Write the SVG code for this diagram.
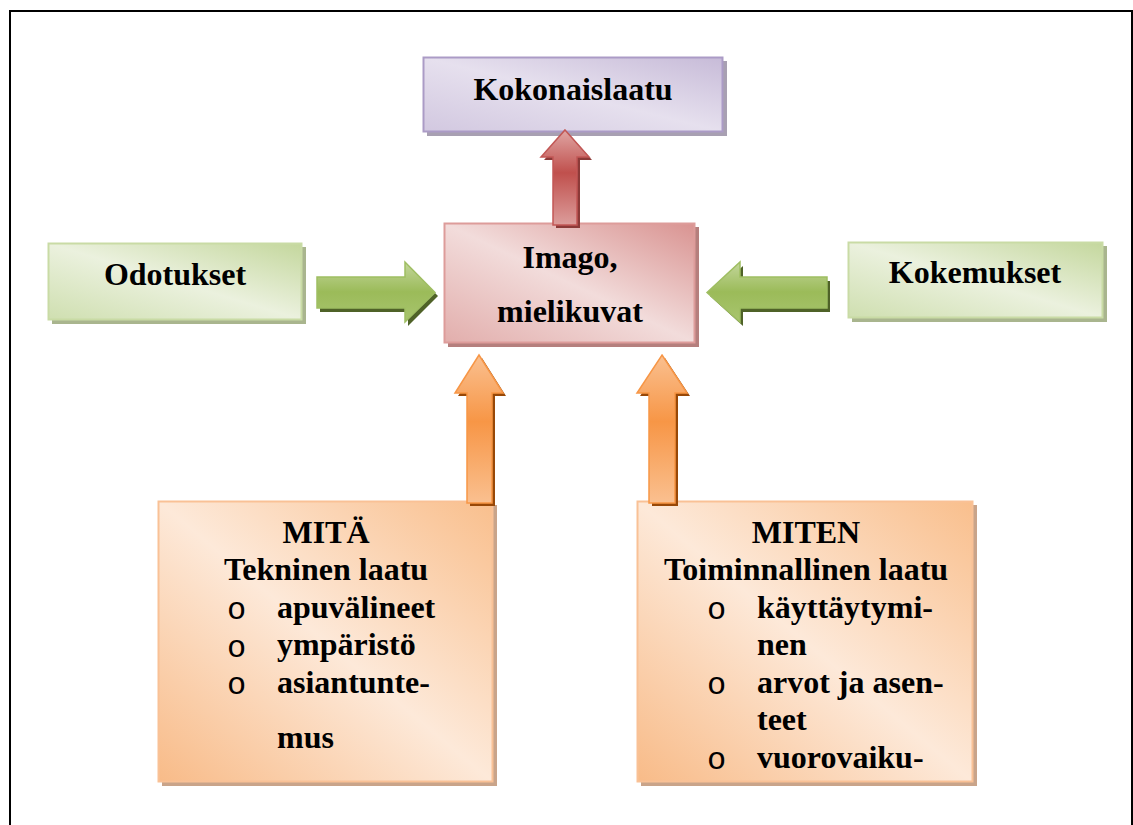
<svg xmlns="http://www.w3.org/2000/svg" width="1133" height="825" viewBox="0 0 1133 825">
<defs>
  <linearGradient id="gPurple" x1="1" y1="0" x2="0" y2="1">
    <stop offset="0" stop-color="#c7bbd8"/>
    <stop offset="0.5" stop-color="#e6e0ee"/>
    <stop offset="1" stop-color="#d2c8e0"/>
  </linearGradient>
  <linearGradient id="gPink" x1="1" y1="0" x2="0" y2="1">
    <stop offset="0" stop-color="#d99391"/>
    <stop offset="0.5" stop-color="#f2dcdb"/>
    <stop offset="1" stop-color="#e2aeac"/>
  </linearGradient>
  <linearGradient id="gGreen" x1="1" y1="0" x2="0" y2="1">
    <stop offset="0" stop-color="#c4d79d"/>
    <stop offset="0.5" stop-color="#ebf1de"/>
    <stop offset="1" stop-color="#cfdfb0"/>
  </linearGradient>
  <linearGradient id="gOrange" x1="1" y1="0" x2="0" y2="1">
    <stop offset="0" stop-color="#f9bf8d"/>
    <stop offset="0.5" stop-color="#fde9d9"/>
    <stop offset="1" stop-color="#f8bb88"/>
  </linearGradient>
  <linearGradient id="aRed" x1="0" y1="0" x2="0" y2="1">
    <stop offset="0" stop-color="#e0a6a4"/>
    <stop offset="0.45" stop-color="#c0504d"/>
    <stop offset="1" stop-color="#dc9d9b"/>
  </linearGradient>
  <linearGradient id="aGreen" x1="0" y1="0" x2="0" y2="1">
    <stop offset="0" stop-color="#c3d69b"/>
    <stop offset="0.5" stop-color="#9bbb59"/>
    <stop offset="1" stop-color="#a9c56f"/>
  </linearGradient>
  <linearGradient id="aOrange" x1="0" y1="0" x2="0" y2="1">
    <stop offset="0" stop-color="#fac090"/>
    <stop offset="0.45" stop-color="#f79646"/>
    <stop offset="1" stop-color="#fac090"/>
  </linearGradient>
</defs>
<style>
  .t { font-family: "Liberation Serif", "Times New Roman", serif; font-weight: bold; font-size: 32px; fill: #000; }
  .b { font-family: "Liberation Mono", "Courier New", monospace; font-size: 32px; fill: #000; }
  .border { fill: none; stroke: #000; stroke-width: 2; }
</style>
<rect width="1133" height="825" fill="#fff"/>
<path class="border" d="M10,826 V11 H1132 V826"/>

<g id="kokonaislaatu">
  <rect x="427" y="61" width="300" height="75" fill="#a8a0b2"/>
  <rect x="423.5" y="57.5" width="299" height="74" fill="url(#gPurple)" stroke="#ab9bc6" stroke-width="2"/>
  <text class="t" x="573" y="100" text-anchor="middle">Kokonaislaatu</text>
</g>

<g id="imago">
  <rect x="448" y="227" width="251" height="120" fill="#b57f7d"/>
  <rect x="444.5" y="223.5" width="250" height="119" fill="url(#gPink)" stroke="#dd9c9a" stroke-width="2"/>
  <text class="t" x="570" y="268" text-anchor="middle">Imago,</text>
  <text class="t" x="570" y="322" text-anchor="middle">mielikuvat</text>
</g>

<g id="odotukset">
  <rect x="52" y="247" width="254" height="77" fill="#a9b58e"/>
  <rect x="48.5" y="243.5" width="253" height="76" fill="url(#gGreen)" stroke="#c9dba5" stroke-width="2"/>
  <text class="t" x="175" y="285" text-anchor="middle">Odotukset</text>
</g>

<g id="kokemukset">
  <rect x="852" y="246" width="255" height="76" fill="#a9b58e"/>
  <rect x="848.5" y="242.5" width="254" height="75" fill="url(#gGreen)" stroke="#c9dba5" stroke-width="2"/>
  <text class="t" x="975" y="283" text-anchor="middle">Kokemukset</text>
</g>

<g id="mita">
  <rect x="162" y="505" width="335" height="281" fill="#c9a48a"/>
  <rect x="158.5" y="501.5" width="334" height="280" fill="url(#gOrange)" stroke="#f9c196" stroke-width="2"/>
  <text class="t" x="326" y="543" text-anchor="middle">MITÄ</text>
  <text class="t" x="326" y="580" text-anchor="middle">Tekninen laatu</text>
  <text class="b" x="227" y="619">o</text>
  <text class="t" x="277" y="618">apuvälineet</text>
  <text class="b" x="227" y="657">o</text>
  <text class="t" x="277" y="655">ympäristö</text>
  <text class="b" x="227" y="694">o</text>
  <text class="t" x="277" y="693">asiantunte-</text>
  <text class="t" x="277" y="748">mus</text>
</g>

<g id="miten">
  <rect x="641" y="505" width="336" height="281" fill="#c9a48a"/>
  <rect x="637.5" y="501.5" width="335" height="280" fill="url(#gOrange)" stroke="#f9c196" stroke-width="2"/>
  <text class="t" x="806" y="543" text-anchor="middle">MITEN</text>
  <text class="t" x="806" y="580" text-anchor="middle">Toiminnallinen laatu</text>
  <text class="b" x="707" y="619">o</text>
  <text class="t" x="757" y="618">käyttäytymi-</text>
  <text class="t" x="757" y="655">nen</text>
  <text class="b" x="707" y="694">o</text>
  <text class="t" x="757" y="693">arvot ja asen-</text>
  <text class="t" x="757" y="730">teet</text>
  <text class="b" x="707" y="769">o</text>
  <text class="t" x="757" y="768">vuorovaiku-</text>
</g>

<g id="connectors">
  <!-- red up arrow: imago -> kokonaislaatu -->
  <path d="M568,133 L592,160 L580,160 L580,228 L556,228 L556,160 L544,160 Z" fill="#8c3a38"/>
  <path d="M565,130 L589,157 L577,157 L577,225 L553,225 L553,157 L541,157 Z" fill="url(#aRed)" stroke="#c25755" stroke-width="1.5"/>

  <!-- green right arrow: odotukset -> imago -->
  <path d="M320,281 L408,281 L408,266 L438,296 L408,326 L408,312 L320,312 Z" fill="#4f6228"/>
  <path d="M317,277 L405,277 L405,262 L435,292.5 L405,322 L405,308 L317,308 Z" fill="url(#aGreen)" stroke="#9fbe62" stroke-width="1.5"/>

  <!-- green left arrow: kokemukset -> imago -->
  <path d="M710,296 L743,266 L743,281 L830,281 L830,312 L743,312 L743,326 Z" fill="#4f6228"/>
  <path d="M707,292.5 L740,262 L740,277 L827,277 L827,308 L740,308 L740,322 Z" fill="url(#aGreen)" stroke="#9fbe62" stroke-width="1.5"/>

  <!-- orange up arrow: mita -> imago -->
  <path d="M482,358 L506,396 L495,396 L495,506 L470,506 L470,396 L458,396 Z" fill="#984807"/>
  <path d="M479,355 L503,393 L492,393 L492,503 L467,503 L467,393 L455,393 Z" fill="url(#aOrange)" stroke="#f79646" stroke-width="1.5"/>

  <!-- orange up arrow: miten -> imago -->
  <path d="M665,358 L690,396 L678,396 L678,506 L652,506 L652,396 L640,396 Z" fill="#984807"/>
  <path d="M662,355 L687,393 L675,393 L675,503 L649,503 L649,393 L637,393 Z" fill="url(#aOrange)" stroke="#f79646" stroke-width="1.5"/>
</g>
</svg>
